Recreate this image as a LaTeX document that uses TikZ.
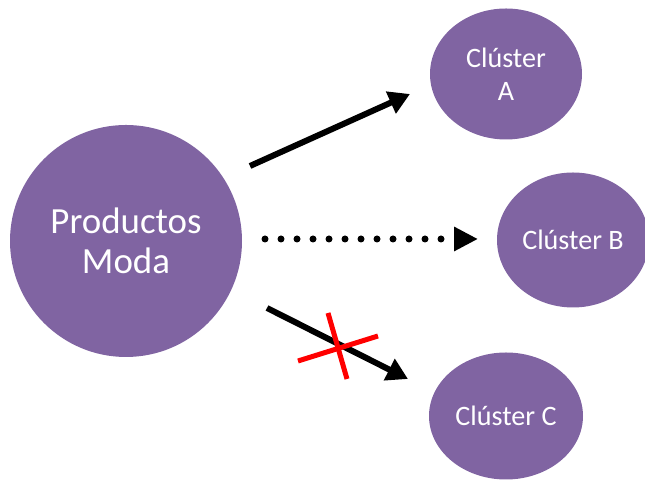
\documentclass[tikz,border=0pt]{standalone}
\usepackage{fontspec}
\setmainfont{Carlito}
\usepackage{tikz}
\usetikzlibrary{arrows.meta}
\usetikzlibrary{shapes.geometric}

\definecolor{moda}{HTML}{8064A2}

\begin{document}
\begin{tikzpicture}[
    blob/.style={ellipse, fill=moda, text=white, inner sep=0pt, align=center},
    flecha/.style={line width=0.12cm, -{Triangle[length=0.42cm, width=0.46cm]}}
  ]
                \clip (0,0) rectangle (12.9,9.62);

                % Nodes
                \node at (2.52,4.80) (prod) [blob, minimum width=4.64cm, minimum height=4.64cm,
                    font=\fontsize{21}{23}\selectfont] {Productos\\Moda};
                \node at (10.12,8.14) (clA) [blob, minimum width=3.04cm, minimum height=2.62cm,
                    font=\fontsize{16}{19}\selectfont] {Clúster\\A};
                \node at (11.46,4.82) (clB) [blob, minimum width=3.04cm, minimum height=2.70cm,
                    font=\fontsize{16}{19}\selectfont] {Clúster B};
                \node at (10.12,1.30) (clC) [blob, minimum width=3.08cm, minimum height=2.54cm,
                    font=\fontsize{16}{19}\selectfont] {Clúster C};

                % Arrow ends
                \coordinate (aFrom) at (5.00,6.30);
                \coordinate (aTo) at (8.20,7.74);
                \coordinate (bFrom) at (5.30,4.84);
                \coordinate (bTo) at (9.56,4.84);
                \coordinate (cFrom) at (5.34,3.46);
                \coordinate (cTo) at (8.16,2.04);

                % Arrows
                \draw[flecha] (aFrom) -- (aTo);
                \draw[line width=0.14cm, line cap=round, dash pattern=on 0pt off 0.32cm,
                    -{Triangle[length=0.48cm, width=0.46cm]}] (bFrom) -- (bTo);
                \draw[flecha] (cFrom) -- (cTo);

                % Red cross over the lower arrow
                \draw[red, line width=0.1cm] (6.56,3.36) -- (6.94,2.04);
                \draw[red, line width=0.1cm] (5.96,2.40) -- (7.56,2.90);

\end{tikzpicture}
\end{document}
